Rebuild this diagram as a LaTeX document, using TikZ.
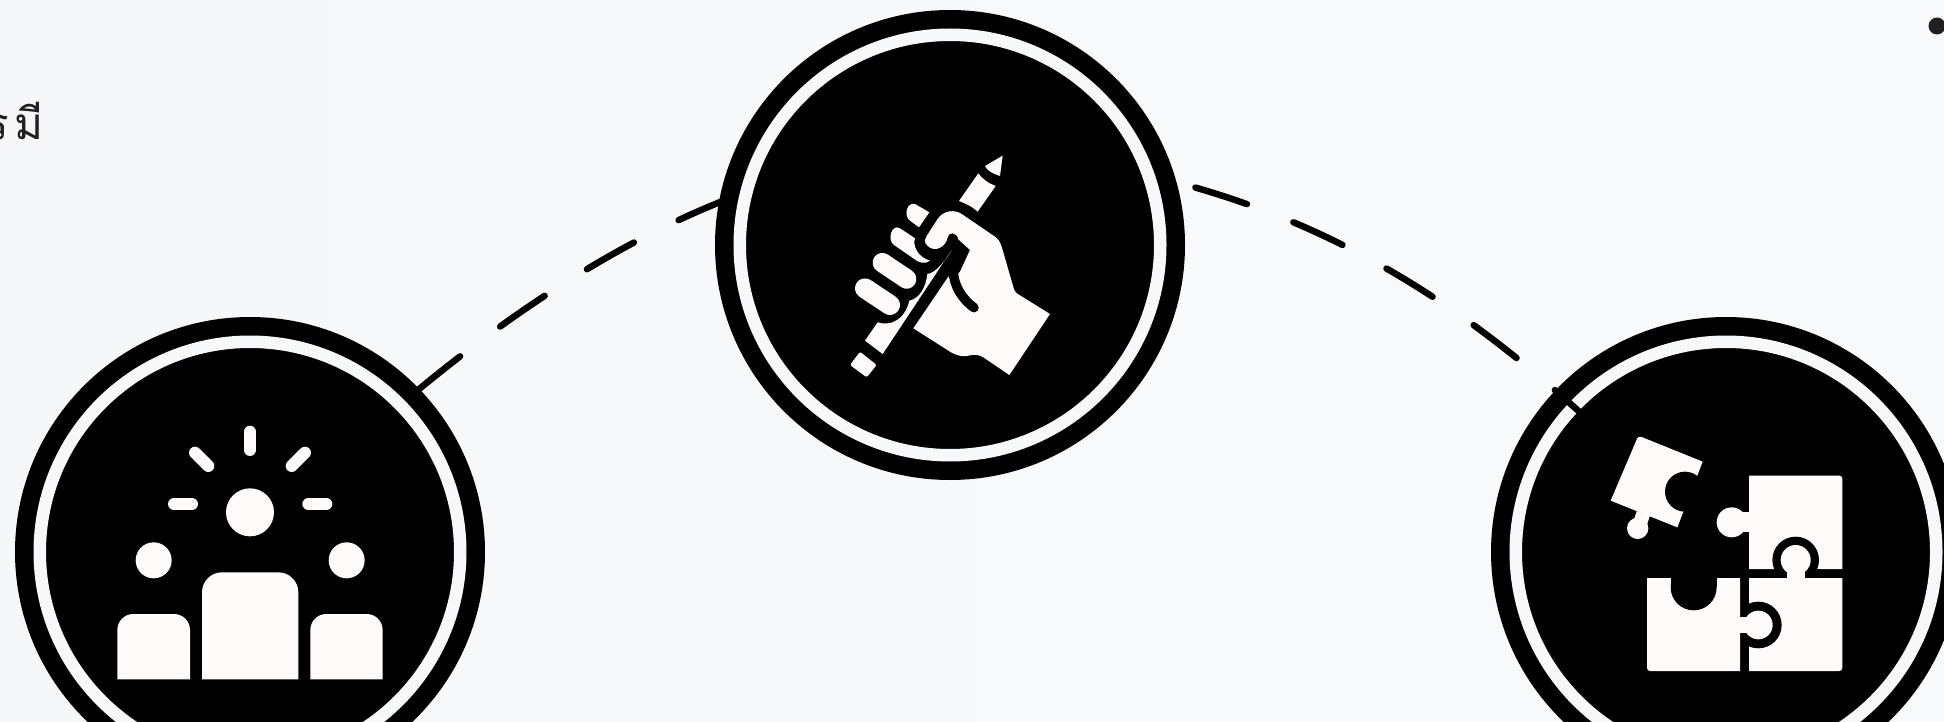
\documentclass[tikz,border=0pt]{standalone}
\usepackage{fontspec}
\newfontfamily\thaifont[Script=Thai]{Loma}
\usetikzlibrary{positioning}
\definecolor{pagelight}{RGB}{245,247,248}
\definecolor{pagepale}{RGB}{248,250,251}
\definecolor{ringgap}{RGB}{246,248,250}
\definecolor{iconwhite}{RGB}{255,251,250}
\definecolor{inkdark}{RGB}{35,31,32}
\tikzset{
  ringdisc/.style={circle, fill=black, draw=black, line width=18.5pt, double=ringgap,
    double distance=12.5pt, minimum size=420.5pt, inner sep=0pt, outer sep=21pt},
  linkdash/.style={line width=6.5pt, line cap=round, dash pattern=on 54pt off 50pt},
  iconfill/.style={fill=iconwhite},
  raystroke/.style={draw=iconwhite, line width=12pt, line cap=round},
  creasestroke/.style={draw=black, line width=9.5pt, line cap=round}
}

\begin{document}
\begin{tikzpicture}[x=1pt,y=-1pt]

\useasboundingbox (0,0) rectangle (1944,722);
\shade[left color=pagelight, right color=pagepale] (0,0) rectangle (1944,722);

%---------------------------------------
% Clipped text and dot
%---------------------------------------
\node[anchor=base east, inner sep=0pt, text=inkdark, font=\thaifont\fontsize{44}{44}\selectfont] (cuttext) at (44,140) {ร\hspace{6pt}มี};
\node[circle, fill=inkdark, minimum size=17pt, inner sep=0pt] (topdot) at (1937,26) {};

%---------------------------------------
% Discs
%---------------------------------------
\node[ringdisc] (people) at (250,552) {};
\node[ringdisc] (hand) at (950,245) {};
\node[ringdisc] (puzzle) at (1726,552) {};

%---------------------------------------
% Links
%---------------------------------------
\draw[linkdash, dash phase=102pt] (people.44) .. controls (505,318) and (610,246) .. (hand.169);
\draw[linkdash, dash phase=80pt] (hand.16) .. controls (1450,253) and (1600,435) .. (puzzle.center);

%---------------------------------------
% People icon
%---------------------------------------
\begin{scope}[shift={(100,410)},scale=1/3]
  % Heads
  \fill[iconfill] (450,307) circle[radius=72];
  \foreach \hx in {161,740}{
    \fill[iconfill] (\hx,451) circle[radius=54];
  }

  % Bodies
  \fill[iconfill] (306,808) [rounded corners=20pt] -- (306,487) -- (595,487) [sharp corners] -- (595,808) -- cycle;
  \foreach \bl/\br in {52/270,631/848}{
    \fill[iconfill] (\bl,808) [rounded corners=16pt] -- (\bl,612) -- (\br,612) [sharp corners] -- (\br,808) -- cycle;
  }

  % Rays
  \foreach \ax/\ay/\bx/\by in {450/65/450/120,222/282/276/282,625/282/679/282,285/128/325/168,615/128/575/168}{
    \draw[raystroke] (\ax,\ay) -- (\bx,\by);
  }
\end{scope}

%---------------------------------------
% Hand icon
%---------------------------------------
\begin{scope}[shift={(820,130)},scale=1/3]
  % Pencil
  \fill[iconfill] (548,77) -- (540,138) .. controls (515,130) and (500,120) .. (495,108) -- cycle;
  \fill[iconfill] (475,130) .. controls (485,145) and (505,160) .. (527,168) -- (473,245) .. controls (455,228) and (435,220) .. (417,213) -- cycle;
  \fill[iconfill, rounded corners=2pt] (120,665) -- (170,705) -- (140,742) -- (90,705) -- cycle;
  \fill[iconfill] (135,632) -- (173,577) .. controls (210,590) and (255,570) .. (268,512)
    .. controls (300,505) and (318,470) .. (322,432) .. controls (345,430) and (375,395) .. (395,360) -- (188,672) -- cycle;

  % Fingers
  \draw[iconwhite, line width=20pt, line cap=round] (135,475) -- (210,525);
  \draw[iconwhite, line width=19.5pt, line cap=round] (187,398) -- (260,447);
  \fill[iconfill] (240,295) -- (285,325) .. controls (278,345) and (290,380) .. (330,392)
    .. controls (315,405) and (295,398) .. (280,385) -- (222,345) .. controls (200,330) and (215,280) .. (240,295) -- cycle;
  \fill[iconfill] (285,222) -- (328,247) -- (297,292) -- (270,272) .. controls (250,258) and (260,215) .. (285,222) -- cycle;

  % Palm and thumb
  \fill[iconfill] (280,595) -- (385,440) -- (405,440) -- (420,425) -- (450,360) -- (415,328)
    .. controls (410,305) and (385,305) .. (383,322) .. controls (378,350) and (345,370) .. (322,347)
    .. controls (310,335) and (315,325) .. (320,318) -- (352,268) .. controls (370,240) and (405,238) .. (425,252)
    -- (522,318) .. controls (535,327) and (540,335) .. (545,350) -- (582,478) .. controls (585,487) and (590,490) .. (595,493)
    -- (690,552) -- (568,735) -- (490,682) .. controls (470,670) and (455,675) .. (440,678)
    .. controls (420,680) and (410,675) .. (395,668) -- cycle;
  \draw[creasestroke] (400,420) .. controls (400,470) and (430,510) .. (462,533);
\end{scope}

%---------------------------------------
% Puzzle icon
%---------------------------------------
\begin{scope}[shift={(1590,420)},scale=1/3]
  % Top right piece
  \fill[iconfill] (477,447) -- (477,167) [rounded corners=3pt] -- (757,167) [sharp corners] -- (757,447) -- cycle;
  \fill[iconfill] (425,307) circle[radius=45];
  \fill[iconfill] (420,277) rectangle (480,335);
  \fill[black] (617,420) circle[radius=70];

  % Bottom right piece
  \fill[iconfill] (477,753) -- (477,474) -- (757,474) [rounded corners=3pt] -- (757,753) [sharp corners] -- cycle;
  \fill[iconfill] (617,420) circle[radius=45];
  \fill[iconfill] (590,440) rectangle (645,480);
  \fill[black] (505,615) circle[radius=70];

  % Bottom left piece
  \fill[iconfill] (171,474) -- (450,474) -- (450,753) [rounded corners=3pt] -- (171,753) [sharp corners] -- cycle;
  \fill[iconfill] (505,615) circle[radius=43];
  \fill[iconfill] (440,590) rectangle (480,640);
  \fill[black] (242,470) rectangle (380,502);
  \fill[black] (311,502) circle[radius=69];

  % Loose piece
  \fill[iconfill] (62,242) [rounded corners=3pt] -- (145,47) [sharp corners] -- (338,125) -- (262,322) -- cycle;
  \fill[black] (285,215) circle[radius=60];
  \fill[iconfill] (143,325) circle[radius=32];
  \draw[iconwhite, line width=14pt] (160,280) -- (145,325);
\end{scope}

\end{tikzpicture}
\end{document}
